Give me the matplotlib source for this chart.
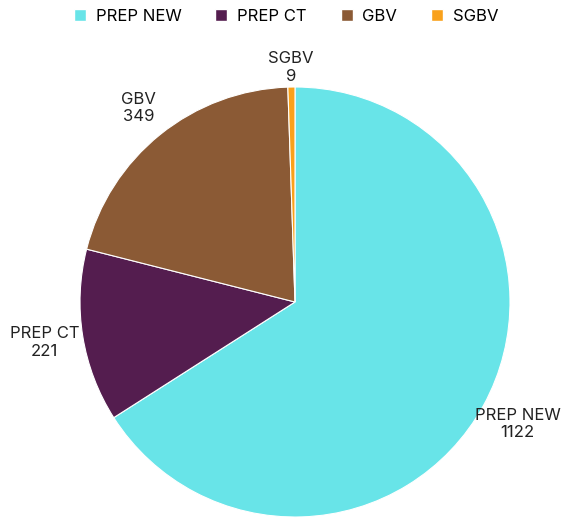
import matplotlib
matplotlib.use('Agg')
import matplotlib.pyplot as plt
import numpy as np
from matplotlib.lines import Line2D

plt.rcParams['font.family'] = ['Inter', 'DejaVu Sans']

categories = ['PREP NEW', 'PREP CT', 'GBV', 'SGBV']
values = [1122, 221, 349, 9]
colors = ['#68E4E8', '#541D4F', '#8B5A35', '#F9A11B']
label_dist = [1.18, 1.18, 1.16, 1.09]

fig = plt.figure(figsize=(5.7, 5.2), dpi=100)
ax = fig.add_axes([80/570, 3/520, 430/570, 430/520])

wedges, _ = ax.pie(values, colors=colors, startangle=90, counterclock=False,
                   wedgeprops=dict(linewidth=0.8, edgecolor='white'), radius=1)
ax.set_xlim(-1, 1)
ax.set_ylim(-1, 1)
ax.set_aspect('equal')

for w, cat, v, d in zip(wedges, categories, values, label_dist):
    ang = np.deg2rad((w.theta1 + w.theta2) / 2)
    ax.text(d*np.cos(ang), d*np.sin(ang), f"{cat}\n{v}", ha='center', va='center',
            fontsize=12, color='#222222', linespacing=1.2, clip_on=False)

handles = [Line2D([], [], marker='s', linestyle='', markersize=8.5, markerfacecolor=c,
                  markeredgecolor='white') for c in colors]
fig.legend(handles, categories, loc='upper center', bbox_to_anchor=(0.5, 1.012), ncol=4,
           frameon=False, fontsize=12, handletextpad=0.45, columnspacing=1.9,
           handlelength=1.0)

fig.savefig('out.png', dpi=100)
